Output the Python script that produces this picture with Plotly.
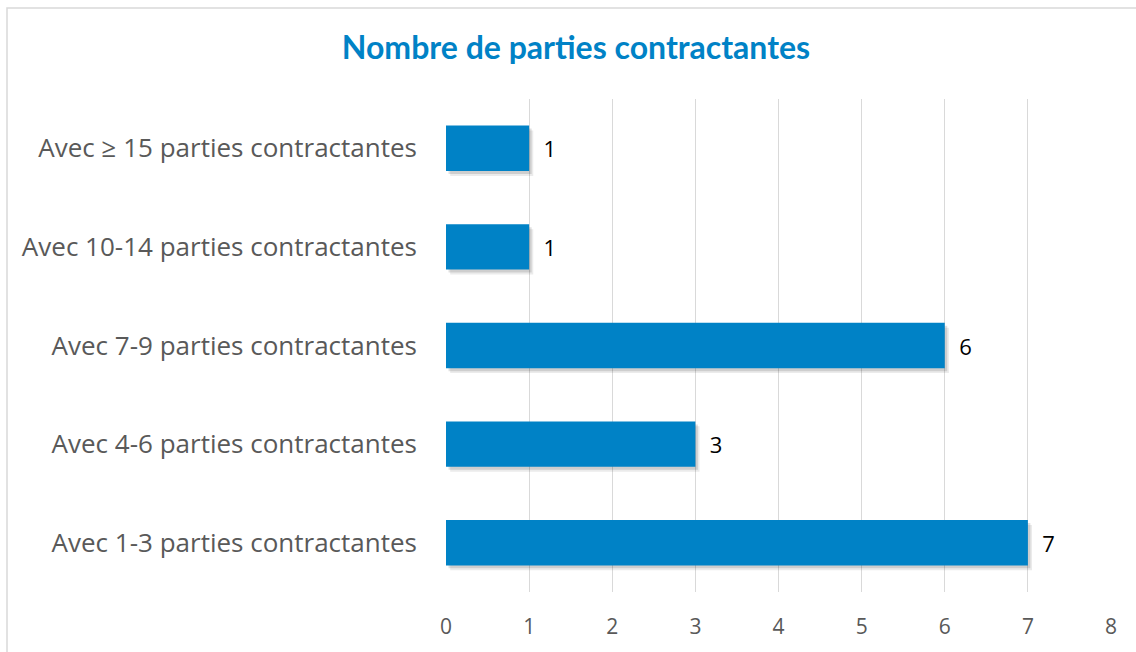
import plotly.graph_objects as go

# data, bottom to top
categories = [
    "Avec 1-3 parties contractantes",
    "Avec 4-6 parties contractantes",
    "Avec 7-9 parties contractantes",
    "Avec 10-14 parties contractantes",
    "Avec ≥ 15 parties contractantes",
]
counts = [7, 3, 6, 1, 1]
x_ticks = [0, 1, 2, 3, 4, 5, 6, 7, 8]

W, H = 1136, 652
ml, mr, mt, mb = 446, 25, 99, 55
bar_w = 0.46

fig = go.Figure()

# soft shadow under the bars
for a, d in [(0.08, 0.05), (0.12, 0.03)]:
    fig.add_trace(go.Bar(
        y=categories, x=counts, orientation="h",
        base=d, width=bar_w, offset=-bar_w / 2 - d,
        marker=dict(color=f"rgba(0,0,0,{a})", line=dict(width=0)),
        hoverinfo="skip", showlegend=False,
    ))

fig.add_trace(go.Bar(
    y=categories, x=counts, orientation="h",
    width=bar_w, offset=-bar_w / 2,
    marker=dict(color="#0082C6", line=dict(width=0)),
    text=["  " + str(v) for v in counts],
    textposition="outside",
    textfont=dict(family="Open Sans", size=22, color="#000000"),
    cliponaxis=False,
    showlegend=False,
))

fig.update_layout(
    width=W, height=H,
    barmode="overlay",
    margin=dict(l=ml, r=mr, t=mt, b=mb),
    paper_bgcolor="white",
    plot_bgcolor="white",
    title=dict(
        text="<b>Nombre de parties contractantes</b>",
        font=dict(family="Lato", size=32, color="#0082C6"),
        x=0.507, xanchor="center", y=1 - 48 / H, yanchor="middle",
    ),
    xaxis=dict(
        range=[0, 8], tickvals=x_ticks,
        showgrid=True, gridcolor="#D9D9D9", gridwidth=1.3,
        zeroline=False, showline=False, ticks="",
        tickfont=dict(family="Open Sans", size=21, color="#595959"),
        ticklabelstandoff=20,
    ),
    yaxis=dict(
        showgrid=False, zeroline=False, showline=False, ticks="",
        tickfont=dict(family="Open Sans", size=26, color="#595959"),
        ticklabelstandoff=28,
    ),
    shapes=[dict(
        type="rect", xref="paper", yref="paper",
        x0=-(ml - 7) / (W - ml - mr), x1=1 + (mr + 20) / (W - ml - mr),
        y0=-(mb + 20) / (H - mt - mb), y1=1 + (mt - 7) / (H - mt - mb),
        line=dict(color="#D9D9D9", width=1.5), layer="below",
    )],
)

fig.write_html("out.html", config={"displayModeBar": False},
               post_script="document.body.style.margin='0';")
